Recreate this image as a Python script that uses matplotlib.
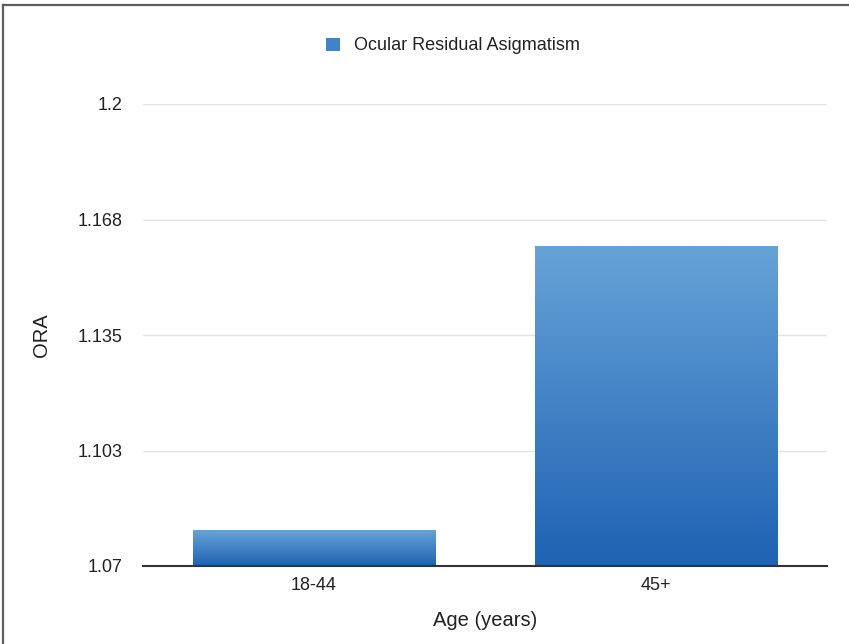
import matplotlib
matplotlib.use("Agg")
import matplotlib.pyplot as plt
import numpy as np
from matplotlib.colors import LinearSegmentedColormap
from matplotlib.lines import Line2D
from matplotlib.patches import Patch

plt.rcParams['font.family'] = ['Liberation Sans', 'DejaVu Sans']

categories = ["18-44", "45+"]
values = [1.080, 1.160]
series_name = "Ocular Residual Asigmatism"
ytick_values = [1.07, 1.1025, 1.135, 1.1675, 1.2]
ytick_labels = ["1.07", "1.103", "1.135", "1.168", "1.2"]
x_label = "Age (years)"
y_label = "ORA"

W, H = 849, 644
fig = plt.figure(figsize=(W / 100, H / 100), dpi=100)
ax = fig.add_axes([143 / W, 1 - 566 / H, (827 - 143) / W, (566 - 104) / H])

x = np.arange(len(categories))
bars = ax.bar(x, [v - 1.07 for v in values], bottom=1.07, width=0.71,
              color="#3f83c9", zorder=2)

# vertical blue gradient inside each bar
grad_cmap = LinearSegmentedColormap.from_list("bluegrad", ["#1f62b3", "#66a3d7"])
grad = np.linspace(0, 1, 256).reshape(-1, 1)
for b in bars:
    x0, y0 = b.get_x(), b.get_y()
    w, h = b.get_width(), b.get_height()
    im = ax.imshow(grad, cmap=grad_cmap, origin="lower", aspect="auto",
                   extent=[x0, x0 + w, y0, y0 + h], zorder=3)
    im.set_clip_path(b)
    b.set_facecolor("none")

ax.set_xlim(-0.5, 1.5)
ax.set_ylim(1.07, 1.2)
ax.set_xticks(x)
ax.set_xticklabels(categories)
ax.set_yticks(ytick_values)
ax.set_yticklabels(ytick_labels)
ax.tick_params(axis="both", length=0, labelsize=13, labelcolor="#222222")
ax.tick_params(axis="y", pad=15)
ax.tick_params(axis="x", pad=8)

ax.grid(axis="y", color="#e3e3e3", linewidth=1, zorder=0)
ax.set_axisbelow(True)
for s in ["top", "right", "left"]:
    ax.spines[s].set_visible(False)
ax.spines["bottom"].set_color("#333333")
ax.spines["bottom"].set_linewidth(1.5)
ax.spines["bottom"].set_zorder(4)

ax.set_xlabel(x_label, fontsize=14.5, color="#222222", labelpad=12)
ax.set_ylabel(y_label, fontsize=14.5, color="#222222", labelpad=19)

handle = Patch(facecolor="#3f83c9", edgecolor="none")
fig.legend([handle], [series_name], loc="center",
           bbox_to_anchor=(453 / W, 1 - 46 / H), frameon=False,
           fontsize=13, handlelength=0.75, handleheight=0.75,
           handletextpad=0.8, labelcolor="#222222")

# thin gray frame along the top and left edges
fig.add_artist(Line2D([2.5 / W, 2.5 / W], [0, 1 - 4.5 / H],
                      transform=fig.transFigure, color="#5e5e5e", linewidth=1.6))
fig.add_artist(Line2D([2.5 / W, 1], [1 - 4.5 / H, 1 - 4.5 / H],
                      transform=fig.transFigure, color="#5e5e5e", linewidth=1.6))

fig.savefig("out.png", dpi=100)
